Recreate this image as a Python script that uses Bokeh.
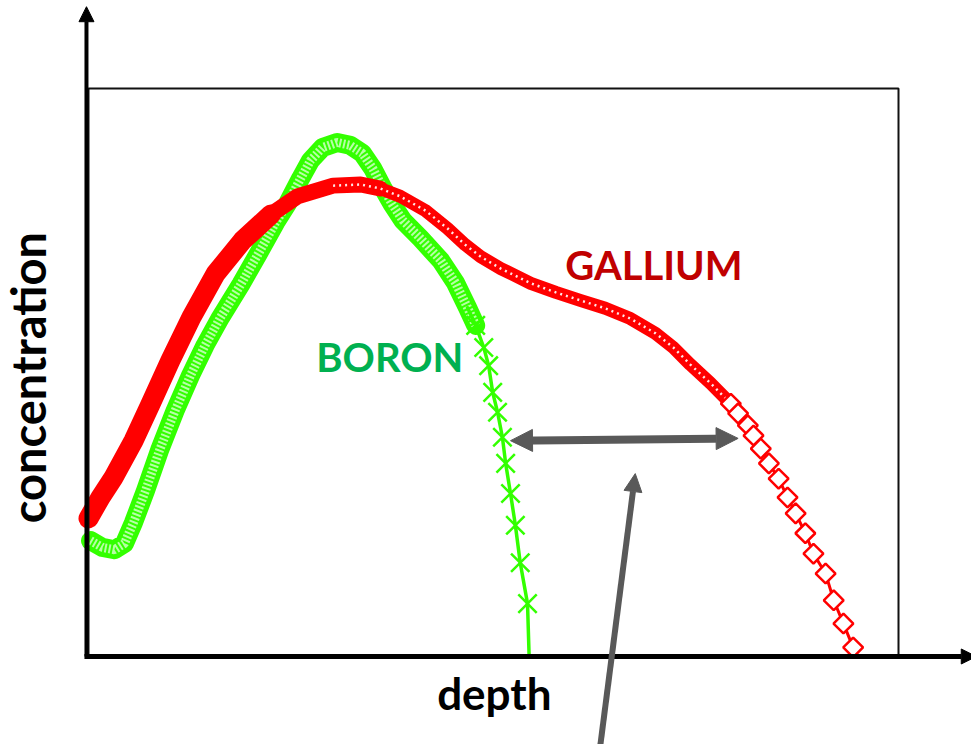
import math
from bokeh.plotting import figure
from bokeh.models import Range1d, Arrow, NormalHead, BoxAnnotation, Label
from bokeh.embed import file_html
from bokeh.resources import INLINE

# Gallium profile (depth and concentration in arbitrary units, box = 0..100)
gallium_depth = [0.0, 1.48, 3.09, 5.56, 7.65, 10.1, 12.7, 15.7, 19.0, 22.5,
                 25.8, 30.2, 33.6, 36.0, 38.5, 41.6, 44.3, 46.5, 48.4, 50.9,
                 54.6, 57.7, 60.7, 63.8, 66.9, 70.0, 72.2, 74.3, 76.8, 79.3,
                 80.2, 81.4, 82.1, 83.0, 84.0, 85.2, 86.3, 87.3, 88.5, 89.5,
                 91.0, 92.0, 93.2, 94.4]
gallium_conc = [24.3, 28.0, 31.5, 38.0, 44.4, 52.1, 59.7, 67.4, 73.2, 77.8,
                81.0, 82.9, 83.1, 82.4, 81.0, 78.5, 75.4, 72.5, 70.4, 68.3,
                65.7, 64.1, 62.7, 61.3, 59.5, 56.9, 54.4, 51.4, 48.1, 44.5,
                42.8, 40.7, 38.9, 36.6, 34.0, 31.3, 28.0, 25.2, 21.7, 18.1,
                14.6, 9.9, 5.8, 1.6]

# Boron profile
boron_depth = [0.25, 1.73, 3.21, 4.44, 5.56, 7.04, 8.77, 10.7, 12.6, 14.4,
               16.3, 18.8, 21.0, 23.1, 24.6, 26.2, 27.4, 28.9, 30.7, 32.3,
               33.8, 35.1, 36.3, 37.5, 38.8, 41.0, 43.5, 45.3, 46.8, 47.8,
               48.8, 49.4, 49.9, 50.5, 51.1, 51.5, 52.1, 52.7, 53.3, 54.2,
               54.4]
boron_conc = [20.4, 19.2, 18.8, 19.9, 23.6, 29.2, 36.3, 43.3, 49.5, 54.8,
              59.7, 65.5, 71.0, 76.4, 79.8, 84.2, 87.3, 89.6, 90.5, 90.0,
              88.6, 85.9, 82.6, 79.6, 76.8, 73.6, 69.7, 65.8, 61.4, 58.3,
              54.4, 51.2, 46.5, 43.0, 38.6, 34.0, 28.7, 23.1, 16.5, 9.3,
              0.0]

# Annotation anchors
gap_arrow_depth = [52.1, 80.2]
gap_arrow_conc = [38.0, 38.4]
pointer_depth = [63.2, 67.5]
pointer_conc = [-15.5, 32.2]

RED = "#FF0000"
GREEN = "#33FF00"
GRAY = "#595959"
FONT = "Lato"

p = figure(width=971, height=744,
           x_range=Range1d(-10.864, 109.012), y_range=Range1d(-15.493, 115.493),
           x_axis_type=None, y_axis_type=None,
           output_backend="svg", toolbar_location=None, min_border=0)
p.grid.visible = False
p.outline_line_color = None
p.background_fill_color = "white"

# Plot frame
p.add_layout(BoxAnnotation(left=0, right=100, bottom=0, top=100,
                           fill_color=None, fill_alpha=0,
                           line_color="#111111", line_alpha=1.0, line_width=2))

gd, gc = gallium_depth, gallium_conc
bd, bc = boron_depth, boron_conc
lk = dict(line_cap="round", line_join="round")

# Boron: dense textured band near surface, sparse markers in the tail
p.line(bd[:30], bc[:30], line_color=GREEN, line_width=19, **lk)
p.line(bd[:30], bc[:30], line_color="white", line_width=9, line_dash="2 2", line_alpha=0.65)
p.line(bd[28:], bc[28:], line_color=GREEN, line_width=3.5, **lk)
p.scatter(bd[29:-1], bc[29:-1], marker="x", size=26, line_color=GREEN, line_width=2.5)

# Gallium: thick band, then thinner dotted band, then sparse diamonds
p.line(gd[:10], gc[:10], line_color=RED, line_width=20, **lk)
p.line(gd[9:14], gc[9:14], line_color=RED, line_width=16, **lk)
p.line(gd[13:31], gc[13:31], line_color=RED, line_width=13, **lk)
p.line(gd[11:30], gc[11:30], line_color="white", line_width=2.5, line_dash="2 4", line_alpha=0.9)
p.line(gd[29:], gc[29:], line_color=RED, line_width=3, **lk)
p.scatter(gd[29:], gc[29:], marker="square", angle=math.pi / 4, size=14,
          line_color=RED, fill_color="white", line_width=2.5)

# Axes drawn as arrows
p.add_layout(Arrow(end=NormalHead(size=15, fill_color="black", line_color="black"),
                   x_start=-0.25, y_start=0, x_end=-0.25, y_end=114.4,
                   line_color="black", line_width=4))
p.add_layout(Arrow(end=NormalHead(size=15, fill_color="black", line_color="black"),
                   x_start=-0.5, y_start=0, x_end=109.6, y_end=0,
                   line_color="black", line_width=5))

# Gap between the two profiles
p.add_layout(Arrow(start=NormalHead(size=22, fill_color=GRAY, line_color=GRAY),
                   end=NormalHead(size=22, fill_color=GRAY, line_color=GRAY),
                   x_start=gap_arrow_depth[0], y_start=gap_arrow_conc[0],
                   x_end=gap_arrow_depth[1], y_end=gap_arrow_conc[1],
                   line_color=GRAY, line_width=8))
p.add_layout(Arrow(end=NormalHead(size=18, fill_color=GRAY, line_color=GRAY),
                   x_start=pointer_depth[0], y_start=pointer_conc[0],
                   x_end=pointer_depth[1], y_end=pointer_conc[1],
                   line_color=GRAY, line_width=6))

# Text
def label(x, y, text, color, size, angle=0.0):
    p.add_layout(Label(x=x, y=y, text=text, text_color=color, text_font=FONT,
                       text_font_style="bold", text_font_size=size,
                       text_align="center", text_baseline="alphabetic", angle=angle))

label(69.8, 69.0, "GALLIUM", "#C00000", "40px")
label(37.2, 52.8, "BORON", "#00B050", "40px")
label(50.1, -6.4, "depth", "black", "44px")
label(-7.5, 49.1, "concentration", "black", "47px", angle=math.pi / 2)

open("out.html", "w").write(file_html(p, INLINE))
